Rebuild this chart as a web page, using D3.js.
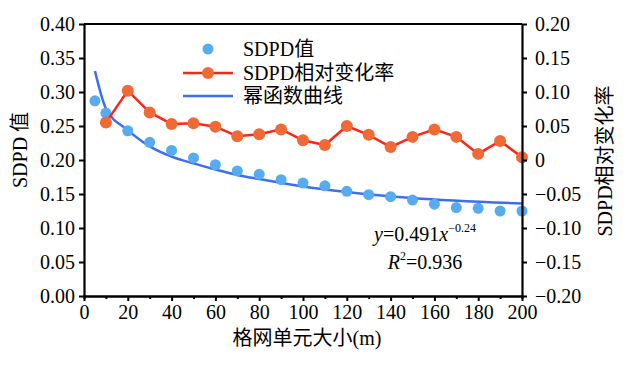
<!DOCTYPE html>
<html>
<head>
<meta charset="utf-8">
<script src="https://cdn.jsdelivr.net/npm/d3@7"></script>
<style>
  body { margin: 0; background: #fff; }
  text { font-family: "Liberation Serif", "Noto Sans CJK SC", serif; }
</style>
</head>
<body>
<div class="chart"></div>
<script>
// grid cell sizes (m)
const sdpdX = [5, 10, 20, 30, 40, 50, 60, 70, 80, 90, 100, 110, 120, 130, 140, 150, 160, 170, 180, 190, 200]
const sdpdValues = [0.287, 0.269, 0.243, 0.226, 0.214, 0.203, 0.193, 0.184, 0.179, 0.171, 0.166, 0.162, 0.154, 0.149, 0.146, 0.141, 0.135, 0.130, 0.129, 0.125, 0.125]

const rateX = [10, 20, 30, 40, 50, 60, 70, 80, 90, 100, 110, 120, 130, 140, 150, 160, 170, 180, 190, 200]
const rateValues = [0.055, 0.102, 0.070, 0.053, 0.054, 0.049, 0.035, 0.038, 0.045, 0.029, 0.022, 0.050, 0.037, 0.019, 0.034, 0.045, 0.034, 0.009, 0.028, 0.004]

// fitted power curve
const fitX = [5, 10, 20, 30, 40, 50, 60, 70, 80, 100, 120, 150, 200]
const fitValues = [0.331, 0.276, 0.244, 0.220, 0.205, 0.195, 0.186, 0.178, 0.172, 0.161, 0.153, 0.144, 0.136]

const xTicks = [0, 20, 40, 60, 80, 100, 120, 140, 160, 180, 200]
const leftTicks = [0, 0.05, 0.1, 0.15, 0.2, 0.25, 0.3, 0.35, 0.4]
const rightTicks = [-0.2, -0.15, -0.1, -0.05, 0, 0.05, 0.1, 0.15, 0.2]

const legendLabels = ["SDPD值", "SDPD相对变化率", "幂函数曲线"]

const W = 637, H = 367
const margin = ({top: 24, right: 115, bottom: 71, left: 84})
const width = W - margin.left - margin.right
const height = H - margin.top - margin.bottom

const blueDot = "#56acee", orangeDot = "#ef6a34", redLine = "#ff2418", blueLine = "#3d6ef2"

const xScale = d3.scaleLinear().domain([0, 200]).range([0, width])
const yLeft = d3.scaleLinear().domain([0, 0.4]).range([height, 0])
const yRight = d3.scaleLinear().domain([-0.2, 0.2]).range([height, 0])

const svg0 = d3.select(".chart").append("svg")
    .attr("width", W)
    .attr("height", H)
const svg = svg0.append("g")
    .attr("transform", `translate(${margin.left},${margin.top})`)

// fitted curve
const fitLine = d3.line()
    .x((d, i) => xScale(fitX[i]))
    .y(d => yLeft(d))
    .curve(d3.curveMonotoneX)
svg.append("path")
    .attr("d", fitLine(fitValues))
    .attr("fill", "none")
    .attr("stroke", blueLine)
    .attr("stroke-width", 2.5)

// SDPD dots
svg.selectAll(".sdpd")
    .data(sdpdValues)
    .enter()
    .append("circle")
        .attr("class", "sdpd")
        .attr("cx", (d, i) => xScale(sdpdX[i]))
        .attr("cy", d => yLeft(d))
        .attr("r", 5.5)
        .attr("fill", blueDot)

// relative change rate line
const rateLine = d3.line()
    .x((d, i) => xScale(rateX[i]))
    .y(d => yRight(d))
svg.append("path")
    .attr("d", rateLine(rateValues))
    .attr("fill", "none")
    .attr("stroke", redLine)
    .attr("stroke-width", 2.5)
svg.selectAll(".rate")
    .data(rateValues)
    .enter()
    .append("circle")
        .attr("class", "rate")
        .attr("cx", (d, i) => xScale(rateX[i]))
        .attr("cy", d => yRight(d))
        .attr("r", 6)
        .attr("fill", orangeDot)

// axes
const fmt2 = d3.format(".2f")
svg.append("g")
    .attr("transform", `translate(0,${height})`)
    .call(d3.axisBottom(xScale).tickValues(xTicks).tickSize(5).tickPadding(4).tickSizeOuter(0))
svg.append("g")
    .attr("transform", `translate(0,${height})`)
    .call(d3.axisBottom(xScale).tickValues(d3.range(10, 200, 20)).tickSize(3).tickFormat(""))
svg.append("g")
    .call(d3.axisLeft(yLeft).tickValues(leftTicks).tickFormat(fmt2).tickSize(5).tickPadding(4).tickSizeOuter(0))
svg.append("g")
    .attr("transform", `translate(${width},0)`)
    .call(d3.axisRight(yRight).tickValues(rightTicks)
        .tickFormat(d => d === 0 ? "0" : (d < 0 ? "\u2212" + fmt2(-d) : fmt2(d)))
        .tickSize(5).tickPadding(8).tickSizeOuter(0))

svg.selectAll(".domain").attr("stroke", "#000").attr("stroke-width", 2.2)
svg.selectAll(".tick line").attr("stroke", "#000").attr("stroke-width", 2)
svg.selectAll(".tick text")
    .attr("font-size", 20)
    .attr("fill", "#000")
    .style("font-family", "'Liberation Serif', serif")

// top border
svg.append("line")
    .attr("x1", 0).attr("x2", width)
    .attr("y1", 0).attr("y2", 0)
    .attr("stroke", "#000")
    .attr("stroke-width", 2.2)

// axis titles
svg.append("text")
    .attr("x", width / 2 + 4)
    .attr("y", height + 49)
    .attr("text-anchor", "middle")
    .attr("font-size", 20)
    .text("格网单元大小(m)")

svg.append("text")
    .attr("transform", `translate(${20 - margin.left + 7},${126}) rotate(-90)`)
    .attr("text-anchor", "middle")
    .attr("font-size", 20)
    .text("SDPD 值")

svg.append("text")
    .attr("transform", `translate(${605 - margin.left + 7},${137}) rotate(-90)`)
    .attr("text-anchor", "middle")
    .attr("font-size", 20)
    .text("SDPD相对变化率")

// legend
const legend = svg.append("g")
    .attr("transform", `translate(${183 - margin.left},${49 - margin.top})`)
legend.append("circle")
    .attr("cx", 25).attr("cy", 0).attr("r", 5.5)
    .attr("fill", blueDot)
legend.append("line")
    .attr("x1", 0).attr("x2", 50).attr("y1", 24).attr("y2", 24)
    .attr("stroke", redLine).attr("stroke-width", 2.5)
legend.append("circle")
    .attr("cx", 25).attr("cy", 24).attr("r", 6)
    .attr("fill", orangeDot)
legend.append("line")
    .attr("x1", 0).attr("x2", 50).attr("y1", 47).attr("y2", 47)
    .attr("stroke", blueLine).attr("stroke-width", 2.5)
legend.selectAll(".label")
    .data(legendLabels)
    .enter()
    .append("text")
        .attr("x", 60)
        .attr("y", (_, i) => [0, 24, 47][i] + 7)
        .attr("font-size", 20)
        .text(d => d)

// equation
const eq = svg.append("text")
    .attr("x", 425 - margin.left)
    .attr("y", 241 - margin.top)
    .attr("text-anchor", "middle")
    .attr("font-size", 20)
eq.append("tspan").attr("font-style", "italic").text("y")
eq.append("tspan").text("=0.491")
eq.append("tspan").attr("font-style", "italic").text("x")
eq.append("tspan").attr("font-size", 12).attr("dy", -9).text("\u22120.24")

const r2 = svg.append("text")
    .attr("x", 425 - margin.left)
    .attr("y", 269 - margin.top)
    .attr("text-anchor", "middle")
    .attr("font-size", 20)
r2.append("tspan").attr("font-style", "italic").text("R")
r2.append("tspan").attr("font-size", 12).attr("dy", -9).text("2")
r2.append("tspan").attr("dy", 9).text("=0.936")
</script>
</body>
</html>
